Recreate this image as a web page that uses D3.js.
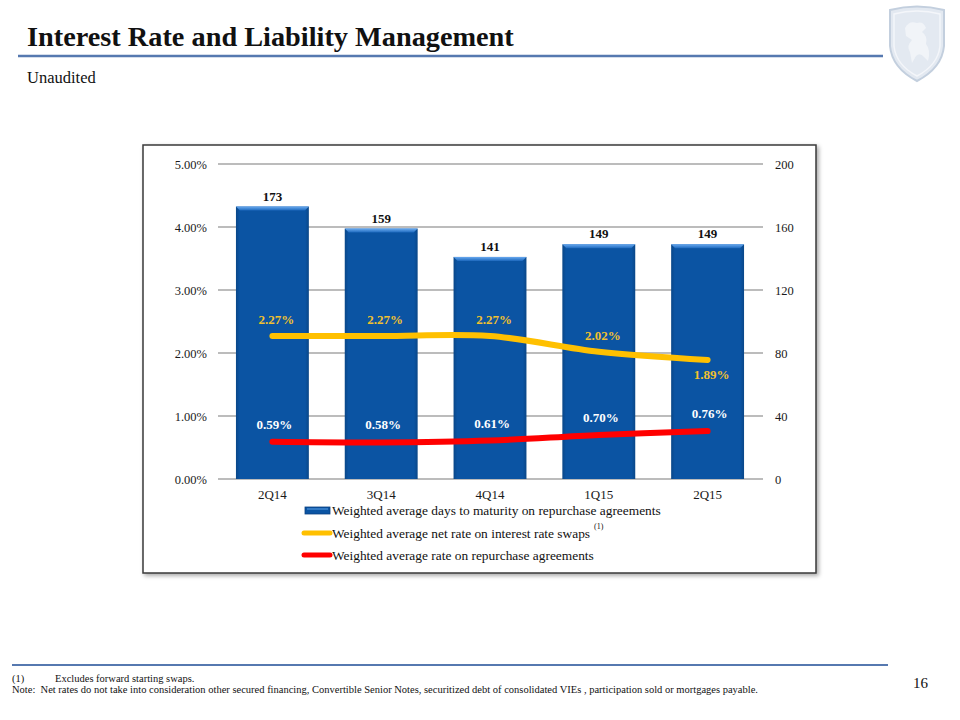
<!DOCTYPE html>
<html>
<head>
<meta charset="utf-8">
<script src="https://cdn.jsdelivr.net/npm/d3@7"></script>
<style>
  body { margin: 0; background: #fff; }
  svg { font-family: "Liberation Serif", "DejaVu Serif", serif; }
</style>
</head>
<body>
<svg id="chart" width="960" height="720"></svg>
<script>
// chart data
const categories = ["2Q14", "3Q14", "4Q14", "1Q15", "2Q15"];
const daysToMaturity = [173, 159, 141, 149, 149];
const swapRate = [0.0227, 0.0227, 0.0227, 0.0202, 0.0189];
const repoRate = [0.0059, 0.0058, 0.0061, 0.0070, 0.0076];
const leftTicks = [0, 0.01, 0.02, 0.03, 0.04, 0.05];
const rightTicks = [0, 40, 80, 120, 160, 200];
const legendLabels = [
  "Weighted average days to maturity on repurchase agreements",
  "Weighted average net rate on interest rate swaps",
  "Weighted average rate on repurchase agreements",
];
// where each swap label sits relative to its point
const swapLabelSide = ["above", "above", "above", "above", "below"];

const config = {
  plot: { left: 218, right: 763, top: 164, bottom: 479 },
  blue: "#0b54a3",
  yellow: "#ffc000",
  yellowText: "#f2c12e",
  red: "#ff0000",
  rule: "#5679b0",
};

const svg = d3.select("#chart");
const defs = svg.append("defs");

// drop shadow for the chart frame
const shadow = defs.append("filter").attr("id", "shadow")
  .attr("x", "-5%").attr("y", "-5%").attr("width", "110%").attr("height", "110%");
shadow.append("feDropShadow")
  .attr("dx", 2).attr("dy", 2).attr("stdDeviation", 2)
  .attr("flood-color", "#000").attr("flood-opacity", 0.35);

// bar side shading
const barGrad = defs.append("linearGradient").attr("id", "barGrad")
  .attr("x1", "0%").attr("x2", "100%").attr("y1", "0%").attr("y2", "0%");
barGrad.append("stop").attr("offset", "0%").attr("stop-color", "#0a4788");
barGrad.append("stop").attr("offset", "5%").attr("stop-color", "#0b54a3");
barGrad.append("stop").attr("offset", "95%").attr("stop-color", "#0b54a3");
barGrad.append("stop").attr("offset", "100%").attr("stop-color", "#0a4788");

const bevelGrad = defs.append("linearGradient").attr("id", "bevelGrad")
  .attr("x1", "0%").attr("x2", "0%").attr("y1", "0%").attr("y2", "100%");
bevelGrad.append("stop").attr("offset", "0%").attr("stop-color", "#6aaaf0");
bevelGrad.append("stop").attr("offset", "100%").attr("stop-color", "#1c68bd");

// ---- page header ----
svg.append("text")
  .attr("x", 27).attr("y", 46)
  .attr("font-size", 28.3).attr("font-weight", "bold").attr("fill", "#111")
  .text("Interest Rate and Liability Management");

svg.append("line")
  .attr("x1", 18).attr("x2", 883).attr("y1", 56).attr("y2", 56)
  .attr("stroke", config.rule).attr("stroke-width", 2.5);

svg.append("text")
  .attr("x", 27).attr("y", 83)
  .attr("font-size", 16.5).attr("fill", "#111")
  .text("Unaudited");

// shield logo
const logo = svg.append("g").attr("transform", "translate(890,6)");
logo.append("path")
  .attr("d", "M0,4 Q27,-3 54,4 L54,40 Q52,62 27,75 Q2,62 0,40 Z")
  .attr("fill", "#e3e9f1").attr("stroke", "#c3cfde").attr("stroke-width", 2);
logo.append("path")
  .attr("d", "M4,8 Q27,2 50,8 L50,40 Q48,59 27,70 Q6,59 4,40 Z")
  .attr("fill", "none").attr("stroke", "#f4f6fa").attr("stroke-width", 1.5);
logo.append("path")
  .attr("d", "M15,22 Q19,14 27,17 Q33,15 36,22 L32,26 Q38,30 36,38 Q41,44 38,55 L34,51 Q30,46 26,50 L22,57 L20,46 Q16,40 22,34 L16,30 Z")
  .attr("fill", "#f1f4f8");

// ---- chart frame ----
svg.append("rect")
  .attr("x", 143).attr("y", 145).attr("width", 673).attr("height", 428)
  .attr("fill", "#fff").attr("stroke", "#3a3a3a").attr("stroke-width", 1.5)
  .attr("filter", "url(#shadow)");

const p = config.plot;

const x = d3.scaleBand()
  .domain(categories)
  .range([p.left, 762])
  .paddingInner(0.33)
  .paddingOuter(0.165);

const yLeft = d3.scaleLinear().domain([0, 0.05]).range([p.bottom, p.top]);
const yRight = d3.scaleLinear().domain([0, 200]).range([p.bottom, p.top]);

// gridlines
svg.append("g")
  .selectAll("line")
  .data(leftTicks)
  .join("line")
  .attr("x1", p.left).attr("x2", p.right)
  .attr("y1", (d) => yLeft(d)).attr("y2", (d) => yLeft(d))
  .attr("stroke", "#a6a6a6").attr("stroke-width", 1.3);

// axes
const leftAxis = svg.append("g")
  .attr("transform", `translate(${p.left},0)`)
  .call(d3.axisLeft(yLeft).tickValues(leftTicks).tickFormat(d3.format(".2%")).tickSize(0).tickPadding(11));

const rightAxis = svg.append("g")
  .attr("transform", `translate(${p.right},0)`)
  .call(d3.axisRight(yRight).tickValues(rightTicks).tickSize(0).tickPadding(12));

const bottomAxis = svg.append("g")
  .attr("transform", `translate(0,${p.bottom})`)
  .call(d3.axisBottom(x).tickSize(0).tickPadding(11));

[leftAxis, rightAxis, bottomAxis].forEach((a) => {
  a.select(".domain").remove();
  a.selectAll("text")
    .attr("font-family", "Liberation Serif, serif")
    .attr("font-size", 12.5)
    .attr("fill", "#1a1a1a");
});
bottomAxis.selectAll("text").attr("font-size", 13);

// bars
const bars = svg.append("g").selectAll("g")
  .data(daysToMaturity)
  .join("g");

bars.append("rect")
  .attr("x", (d, i) => x(categories[i]))
  .attr("y", (d) => yRight(d))
  .attr("width", x.bandwidth())
  .attr("height", (d) => yRight(0) - yRight(d))
  .attr("fill", "url(#barGrad)");

bars.append("path")
  .attr("d", (d, i) => {
    const x0 = x(categories[i]);
    const x1 = x0 + x.bandwidth();
    const t = yRight(d);
    return `M${x0},${t}L${x1},${t}L${x1 - 4},${t + 4}L${x0 + 4},${t + 4}Z`;
  })
  .attr("fill", "url(#bevelGrad)");

bars.append("text")
  .attr("x", (d, i) => x(categories[i]) + x.bandwidth() / 2)
  .attr("y", (d) => yRight(d) - 6)
  .attr("text-anchor", "middle")
  .attr("font-size", 13).attr("font-weight", "bold").attr("fill", "#111")
  .text((d) => d);

// lines
const cx = (i) => x(categories[i]) + x.bandwidth() / 2;

const line = d3.line()
  .x((d, i) => cx(i))
  .y((d) => yLeft(d))
  .curve(d3.curveCatmullRom.alpha(0.5));

svg.append("path")
  .attr("d", line(swapRate))
  .attr("fill", "none").attr("stroke", config.yellow)
  .attr("stroke-width", 6).attr("stroke-linecap", "round");

svg.append("path")
  .attr("d", line(repoRate))
  .attr("fill", "none").attr("stroke", config.red)
  .attr("stroke-width", 6).attr("stroke-linecap", "round");

const pct = d3.format(".2%");

svg.append("g").selectAll("text")
  .data(swapRate)
  .join("text")
  .attr("x", (d, i) => cx(i) + 4)
  .attr("y", (d, i) => swapLabelSide[i] === "above" ? yLeft(d) - 12 : yLeft(d) + 19)
  .attr("text-anchor", "middle")
  .attr("font-size", 13).attr("font-weight", "bold").attr("fill", config.yellowText)
  .text((d) => pct(d));

svg.append("g").selectAll("text")
  .data(repoRate)
  .join("text")
  .attr("x", (d, i) => cx(i) + 2)
  .attr("y", (d) => yLeft(d) - 13)
  .attr("text-anchor", "middle")
  .attr("font-size", 13).attr("font-weight", "bold").attr("fill", "#fff")
  .text((d) => pct(d));

// legend
const legend = svg.append("g").attr("transform", "translate(303,0)");
const legendY = [510, 533, 555];

legend.append("rect")
  .attr("x", 2).attr("y", legendY[0] - 3).attr("width", 25).attr("height", 7)
  .attr("fill", config.blue).attr("stroke", "#0a4080").attr("stroke-width", 0.8);
legend.append("line")
  .attr("x1", 4).attr("x2", 25).attr("y1", legendY[0] - 1).attr("y2", legendY[0] - 1)
  .attr("stroke", "#5aa0e8").attr("stroke-width", 1);

legend.append("line")
  .attr("x1", 1).attr("x2", 27).attr("y1", legendY[1]).attr("y2", legendY[1])
  .attr("stroke", config.yellow).attr("stroke-width", 5).attr("stroke-linecap", "round");
legend.append("line")
  .attr("x1", 1).attr("x2", 27).attr("y1", legendY[2]).attr("y2", legendY[2])
  .attr("stroke", config.red).attr("stroke-width", 5).attr("stroke-linecap", "round");

legend.selectAll("text.leg")
  .data(legendLabels)
  .join("text")
  .attr("class", "leg")
  .attr("x", 29)
  .attr("y", (d, i) => legendY[i] + 4.5)
  .attr("font-size", 13.4).attr("fill", "#111")
  .text((d) => d);

legend.append("text")
  .attr("x", 291).attr("y", 529)
  .attr("font-size", 8).attr("fill", "#111")
  .text("(1)");

// ---- footer ----
svg.append("line")
  .attr("x1", 12).attr("x2", 888).attr("y1", 665).attr("y2", 665)
  .attr("stroke", config.rule).attr("stroke-width", 2);

const foot = svg.append("g").attr("font-size", 10.5).attr("fill", "#111");
foot.append("text").attr("x", 12).attr("y", 682).text("(1)");
foot.append("text").attr("x", 55).attr("y", 682).text("Excludes forward starting swaps.");
foot.append("text").attr("x", 12).attr("y", 693)
  .attr("xml:space", "preserve")
  .text("Note:  Net rates do not take into consideration other secured financing, Convertible Senior Notes, securitized debt of consolidated VIEs , participation sold or mortgages payable.");

svg.append("text")
  .attr("x", 913).attr("y", 688)
  .attr("font-size", 15).attr("fill", "#111")
  .text("16");
</script>
</body>
</html>
